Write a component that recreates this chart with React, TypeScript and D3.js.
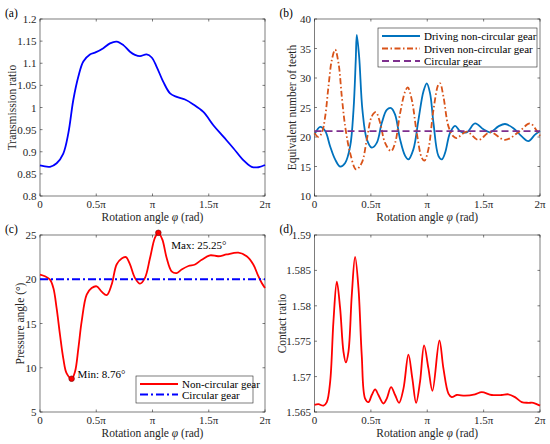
import * as d3 from 'd3'
import React, { useEffect, useRef } from 'react'

// angles are in units of pi
const phiA = [0, 0.089, 0.148, 0.207, 0.252, 0.296, 0.341, 0.385, 0.444, 0.498, 0.563, 0.622, 0.681, 0.741, 0.8, 0.844, 0.889, 0.948, 0.993, 1.037, 1.096, 1.156, 1.215, 1.289, 1.363, 1.452, 1.541, 1.63, 1.719, 1.807, 1.881, 1.941, 2.0]
const ratioA = [0.869, 0.866, 0.874, 0.896, 0.942, 1.017, 1.07, 1.104, 1.12, 1.125, 1.134, 1.145, 1.149, 1.141, 1.126, 1.119, 1.116, 1.12, 1.113, 1.092, 1.058, 1.032, 1.024, 1.018, 1.007, 0.99, 0.96, 0.934, 0.908, 0.881, 0.866, 0.865, 0.87]

const phiDriving = [0, 0.05, 0.095, 0.139, 0.183, 0.227, 0.272, 0.316, 0.346, 0.366, 0.375, 0.396, 0.425, 0.464, 0.508, 0.552, 0.597, 0.641, 0.679, 0.715, 0.759, 0.804, 0.833, 0.877, 0.922, 0.966, 0.996, 1.025, 1.055, 1.099, 1.129, 1.158, 1.202, 1.247, 1.291, 1.35, 1.424, 1.498, 1.557, 1.631, 1.69, 1.764, 1.838, 1.897, 1.956, 2.0]
const teethDriving = [20.4, 21.7, 21.0, 18.4, 16.2, 15.0, 15.6, 18.4, 24.6, 33.1, 37.3, 33.6, 24.6, 19.6, 18.2, 19.0, 22.4, 24.6, 24.9, 23.8, 19.6, 16.8, 16.2, 17.9, 22.9, 27.7, 29.1, 27.4, 22.4, 16.8, 16.2, 17.3, 20.7, 21.9, 21.0, 20.8, 22.3, 21.3, 20.8, 21.8, 22.2, 21.5, 20.1, 19.3, 20.4, 21.0]
const phiDriven = [0, 0.035, 0.065, 0.095, 0.124, 0.154, 0.183, 0.213, 0.242, 0.272, 0.316, 0.369, 0.419, 0.464, 0.508, 0.544, 0.582, 0.626, 0.679, 0.715, 0.759, 0.804, 0.827, 0.863, 0.907, 0.951, 0.975, 1.01, 1.055, 1.099, 1.114, 1.143, 1.188, 1.232, 1.261, 1.35, 1.453, 1.557, 1.69, 1.808, 1.911, 1.97, 2.0]
const teethDriven = [20.7, 20.0, 20.7, 23.5, 28.6, 33.1, 34.8, 32.5, 26.9, 21.8, 17.3, 14.5, 15.6, 19.6, 23.5, 24.2, 22.4, 19.0, 17.6, 19.0, 24.0, 27.7, 28.4, 26.3, 20.7, 16.5, 16.0, 17.9, 24.6, 28.9, 29.1, 26.9, 21.8, 20.1, 19.8, 20.9, 19.5, 20.8, 19.5, 20.8, 22.3, 21.1, 20.2]
const circularTeeth = 21

const phiC = [0, 0.044, 0.089, 0.119, 0.148, 0.178, 0.207, 0.237, 0.281, 0.311, 0.341, 0.37, 0.415, 0.459, 0.504, 0.548, 0.593, 0.637, 0.681, 0.726, 0.764, 0.8, 0.844, 0.889, 0.933, 0.978, 1.022, 1.052, 1.087, 1.126, 1.17, 1.215, 1.259, 1.319, 1.378, 1.437, 1.511, 1.585, 1.659, 1.763, 1.837, 1.896, 1.941, 1.97, 2.0]
const pressureC = [20.53, 20.34, 19.96, 19.0, 16.7, 13.7, 11.06, 9.36, 8.76, 9.55, 12.2, 15.2, 18.26, 19.0, 19.2, 18.6, 18.2, 19.4, 21.67, 22.35, 22.5, 21.67, 20.15, 19.5, 20.15, 22.4, 24.7, 25.25, 24.5, 22.4, 20.9, 20.7, 21.1, 21.5, 21.67, 22.2, 22.7, 22.6, 22.8, 23.0, 22.6, 21.67, 20.34, 19.6, 19.0]
const circularPressure = 20
const minPoint = { phi: 0.281, v: 8.76 }
const maxPoint = { phi: 1.052, v: 25.25 }

const phiD = [0, 0.035, 0.08, 0.109, 0.139, 0.168, 0.198, 0.227, 0.257, 0.278, 0.301, 0.331, 0.36, 0.39, 0.419, 0.449, 0.479, 0.508, 0.538, 0.567, 0.612, 0.641, 0.679, 0.715, 0.75, 0.789, 0.833, 0.868, 0.901, 0.936, 0.972, 1.01, 1.046, 1.108, 1.143, 1.188, 1.217, 1.261, 1.335, 1.424, 1.483, 1.572, 1.66, 1.719, 1.778, 1.838, 1.897, 1.941, 2.0]
const contactD = [1.566, 1.5661, 1.5659, 1.5664, 1.5693, 1.5778, 1.5834, 1.5797, 1.5735, 1.572, 1.5735, 1.5816, 1.5869, 1.5825, 1.573, 1.5669, 1.5664, 1.5674, 1.5682, 1.5674, 1.5662, 1.5669, 1.5685, 1.5674, 1.5663, 1.5683, 1.5731, 1.5697, 1.5663, 1.5693, 1.5744, 1.5712, 1.568, 1.5751, 1.5712, 1.5676, 1.5671, 1.5674, 1.5673, 1.5675, 1.5678, 1.5674, 1.5674, 1.5675, 1.5671, 1.5664, 1.5663, 1.5663, 1.5659]

const xTicks = [0, 0.5, 1, 1.5, 2]
const xTickLabels = ['0', '0.5π', 'π', '1.5π', '2π']
const yTicksA = [0.8, 0.85, 0.9, 0.95, 1, 1.05, 1.1, 1.15, 1.2]
const yTicksB = [10, 15, 20, 25, 30, 35, 40]
const yTicksC = [5, 10, 15, 20, 25]
const yTicksD = [1.565, 1.57, 1.575, 1.58, 1.585, 1.59]

const FONT = "'Liberation Serif', 'DejaVu Serif', serif"
const AXIS = '#262626'
const TICK_FS = 11
const LABEL_FS = 11.5

type Box = { left: number; right: number; top: number; bottom: number }

const App = () => {
  const ref = useRef<SVGSVGElement>(null)

  useEffect(() => {
    const svg = d3.select(ref.current)
    svg.selectAll('*').remove()
    svg.style('font-family', FONT)

    const panel = (
      box: Box,
      yDomain: [number, number],
      yTicks: number[],
      yLabel: string,
      yLabelX: number,
      tag: string,
      tagY: number,
    ) => {
      const x = d3.scaleLinear().domain([0, 2]).range([box.left, box.right])
      const y = d3.scaleLinear().domain(yDomain).range([box.bottom, box.top])
      const g = svg.append('g')

      // ticks inside, on all four sides
      xTicks.forEach((t, i) => {
        const px = x(t)
        g.append('line').attr('x1', px).attr('x2', px).attr('y1', box.bottom).attr('y2', box.bottom - 2.5).attr('stroke', AXIS).attr('stroke-width', 0.6)
        g.append('line').attr('x1', px).attr('x2', px).attr('y1', box.top).attr('y2', box.top + 2.5).attr('stroke', AXIS).attr('stroke-width', 0.6)
        g.append('text').attr('x', px).attr('y', box.bottom + 7.5).attr('text-anchor', 'middle').attr('dominant-baseline', 'central')
          .style('font-size', `${TICK_FS}px`).attr('fill', AXIS).text(xTickLabels[i])
      })
      yTicks.forEach((t) => {
        const py = y(t)
        g.append('line').attr('x1', box.left).attr('x2', box.left + 2.5).attr('y1', py).attr('y2', py).attr('stroke', AXIS).attr('stroke-width', 0.6)
        g.append('line').attr('x1', box.right).attr('x2', box.right - 2.5).attr('y1', py).attr('y2', py).attr('stroke', AXIS).attr('stroke-width', 0.6)
        g.append('text').attr('x', box.left - 3.5).attr('y', py).attr('text-anchor', 'end').attr('dominant-baseline', 'central')
          .style('font-size', `${TICK_FS}px`).attr('fill', AXIS).text(String(+t.toFixed(3)))
      })
      g.append('rect').attr('x', box.left).attr('y', box.top).attr('width', box.right - box.left).attr('height', box.bottom - box.top)
        .attr('fill', 'none').attr('stroke', AXIS).attr('stroke-width', 0.6)

      // axis titles
      const xl = g.append('text').attr('x', (box.left + box.right) / 2).attr('y', box.bottom + 20.5).attr('text-anchor', 'middle')
        .attr('dominant-baseline', 'central').style('font-size', `${LABEL_FS}px`).attr('fill', AXIS)
      xl.append('tspan').text('Rotation angle ')
      xl.append('tspan').attr('font-style', 'italic').text('φ')
      xl.append('tspan').text(' (rad)')
      g.append('text').attr('transform', `translate(${yLabelX},${(box.top + box.bottom) / 2}) rotate(-90)`).attr('text-anchor', 'middle')
        .attr('dominant-baseline', 'central').style('font-size', `${LABEL_FS}px`).attr('fill', AXIS).text(yLabel)
      g.append('text').attr('x', box.left - 35).attr('y', tagY).attr('dominant-baseline', 'central')
        .style('font-size', `${LABEL_FS}px`).attr('fill', '#000').text(tag)

      return { x, y, g }
    }

    const drawLine = (
      p: { x: d3.ScaleLinear<number, number>; y: d3.ScaleLinear<number, number>; g: any },
      xs: number[],
      ys: number[],
      color: string,
      width: number,
      dash?: string,
    ) => {
      const line = d3.line<number>().x((_, i) => p.x(xs[i])).y((d) => p.y(d)).curve(d3.curveCatmullRom.alpha(0.5))
      const path = p.g.append('path').attr('d', line(ys)).attr('fill', 'none').attr('stroke', color).attr('stroke-width', width)
        .attr('stroke-linejoin', 'round')
      if (dash) path.attr('stroke-dasharray', dash)
    }

    const legend = (
      g: any,
      box: { x: number; y: number; w: number; h: number },
      items: { label: string; color: string; dash?: string }[],
      rowGap: number,
    ) => {
      g.append('rect').attr('x', box.x).attr('y', box.y).attr('width', box.w).attr('height', box.h)
        .attr('fill', '#fff').attr('stroke', AXIS).attr('stroke-width', 0.6)
      items.forEach((it, i) => {
        const cy = box.y + 8 + i * rowGap
        const ln = g.append('line').attr('x1', box.x + 4).attr('x2', box.x + 42).attr('y1', cy).attr('y2', cy)
          .attr('stroke', it.color).attr('stroke-width', 1.8)
        if (it.dash) ln.attr('stroke-dasharray', it.dash)
        g.append('text').attr('x', box.x + 46).attr('y', cy).attr('dominant-baseline', 'central')
          .style('font-size', '11px').attr('fill', '#000').text(it.label)
      })
    }

    // (a)
    const pa = panel({ left: 40, right: 265, top: 19, bottom: 196 }, [0.8, 1.2], yTicksA, 'Transmission ratio', 12, '(a)', 13)
    drawLine(pa, phiA, ratioA, '#0000ff', 1.8)

    // (b)
    const pb = panel({ left: 314.5, right: 540, top: 19, bottom: 196 }, [10, 40], yTicksB, 'Equivalent number of teeth', 292, '(b)', 13)
    drawLine(pb, phiDriving, teethDriving, '#0072bd', 1.8)
    drawLine(pb, phiDriven, teethDriven, '#d95319', 1.8, '6,2.5,1.5,2.5')
    pb.g.append('line').attr('x1', pb.x(0)).attr('x2', pb.x(2)).attr('y1', pb.y(circularTeeth)).attr('y2', pb.y(circularTeeth))
      .attr('stroke', '#7e2f8e').attr('stroke-width', 1.8).attr('stroke-dasharray', '7,4')
    legend(pb.g, { x: 378, y: 28, w: 159, h: 39 }, [
      { label: 'Driving non-circular gear', color: '#0072bd' },
      { label: 'Driven non-circular gear', color: '#d95319', dash: '6,2.5,1.5,2.5' },
      { label: 'Circular gear', color: '#7e2f8e', dash: '7,4' },
    ], 12.5)

    // (c)
    const pc = panel({ left: 40, right: 265, top: 235, bottom: 412 }, [5, 25], yTicksC, 'Pressure angle (°)', 20, '(c)', 229)
    drawLine(pc, phiC, pressureC, '#ff0000', 1.8)
    pc.g.append('line').attr('x1', pc.x(0)).attr('x2', pc.x(2)).attr('y1', pc.y(circularPressure)).attr('y2', pc.y(circularPressure))
      .attr('stroke', '#0000ff').attr('stroke-width', 1.8).attr('stroke-dasharray', '8,3,2,3')
    ;[minPoint, maxPoint].forEach((pt) => {
      pc.g.append('circle').attr('cx', pc.x(pt.phi)).attr('cy', pc.y(pt.v)).attr('r', 2.8)
        .attr('fill', '#ff0000').attr('stroke', '#600').attr('stroke-width', 0.6)
    })
    pc.g.append('text').attr('x', pc.x(minPoint.phi) + 6).attr('y', pc.y(minPoint.v) - 5).attr('dominant-baseline', 'central')
      .style('font-size', '11px').attr('fill', '#000').text(`Min: ${minPoint.v}°`)
    pc.g.append('text').attr('x', pc.x(maxPoint.phi) + 13).attr('y', pc.y(maxPoint.v) + 12).attr('dominant-baseline', 'central')
      .style('font-size', '11px').attr('fill', '#000').text(`Max: ${maxPoint.v}°`)
    legend(pc.g, { x: 136, y: 376, w: 117, h: 27 }, [
      { label: 'Non-circular gear', color: '#ff0000' },
      { label: 'Circular gear', color: '#0000ff', dash: '8,3,2,3' },
    ], 10.5)

    // (d)
    const pd = panel({ left: 314.5, right: 540, top: 235, bottom: 412 }, [1.565, 1.59], yTicksD, 'Contact ratio', 282, '(d)', 229)
    drawLine(pd, phiD, contactD, '#ff0000', 1.8)
  }, [])

  return <svg ref={ref} width={550} height={444} style={{ position: 'absolute', left: 0, top: 0, background: '#fff' }} />
}

export default App
